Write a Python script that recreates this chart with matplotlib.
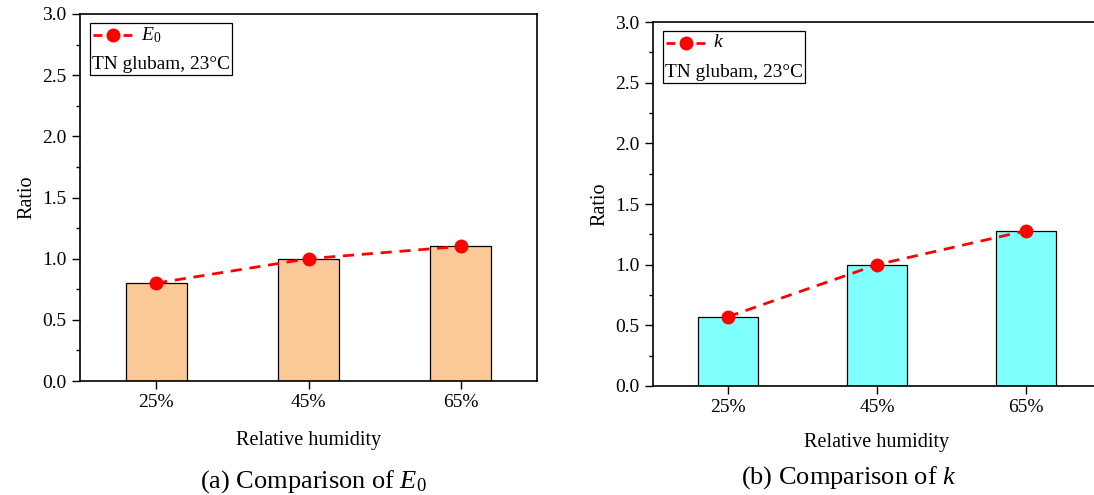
import matplotlib
matplotlib.use("Agg")
import matplotlib.pyplot as plt
import numpy as np
from matplotlib.lines import Line2D
from matplotlib.offsetbox import (AnchoredOffsetbox, DrawingArea, HPacker,
                                  TextArea, VPacker)
from matplotlib.ticker import MultipleLocator, FormatStrFormatter

plt.rcParams['font.family'] = ['Liberation Serif', 'DejaVu Serif']
plt.rcParams['mathtext.fontset'] = 'custom'
plt.rcParams['mathtext.rm'] = 'Liberation Serif'
plt.rcParams['mathtext.it'] = 'Liberation Serif:italic'

# data
humidity = ['25%', '45%', '65%']
e0_ratio = [0.80, 1.00, 1.10]
k_ratio = [0.57, 1.00, 1.28]

panels = [
    dict(values=e0_ratio, color='#FBC898', label=r'$\mathit{E_0}$',
         caption=r'(a) Comparison of $E_\mathrm{0}$',
         pos=[80 / 1094, 1 - 381 / 495, 457 / 1094, 367 / 495],
         cap_x=313 / 1094, cap_y=1 - 482 / 495, xlab_pad=14),
    dict(values=k_ratio, color='#80FFFF', label=r'$k$',
         caption=r'(b) Comparison of $k$',
         pos=[653 / 1094, 1 - 386 / 495, 448 / 1094, 364 / 495],
         cap_x=849 / 1094, cap_y=1 - 478 / 495, xlab_pad=12),
]

fig = plt.figure(figsize=(10.94, 4.95), dpi=100)

for p in panels:
    ax = fig.add_axes(p['pos'])
    x = np.arange(len(humidity))
    ax.bar(x, p['values'], width=0.4, color=p['color'], edgecolor='black',
           linewidth=0.9, zorder=2)
    ax.plot(x, p['values'], color='red', linestyle='--', dashes=(4, 2.8),
            linewidth=2.0, marker='o', markersize=9, zorder=3)
    ax.set_xlim(-0.5, 2.5)
    ax.set_ylim(0, 3.0)
    ax.set_xticks(x)
    ax.set_xticklabels(humidity)
    ax.yaxis.set_major_locator(MultipleLocator(0.5))
    ax.yaxis.set_minor_locator(MultipleLocator(0.25))
    ax.yaxis.set_major_formatter(FormatStrFormatter('%.1f'))
    ax.tick_params(axis='both', which='major', direction='out', length=5.5,
                   width=1.0, labelsize=14, pad=4)
    ax.tick_params(axis='y', which='minor', direction='out', length=3, width=1.0)
    for s in ax.spines.values():
        s.set_linewidth(1.2)
    ax.set_xlabel('Relative humidity', fontsize=14.5, labelpad=p['xlab_pad'])
    ax.set_ylabel('Ratio', fontsize=14.5, labelpad=4)

    # legend box: line entry plus note
    da = DrawingArea(30, 14, 0, 0)
    da.add_artist(Line2D([1, 29], [7, 7], color='red', linestyle='--',
                         dashes=(3.2, 2.2), linewidth=2.0))
    da.add_artist(Line2D([15], [7], color='red', marker='o', markersize=9))
    row = HPacker(children=[da, TextArea(p['label'],
                                         textprops=dict(fontsize=14))],
                  pad=0, sep=5, align='center')
    note = TextArea('TN glubam, 23°C', textprops=dict(fontsize=13.9))
    box = VPacker(children=[row, note], pad=0, sep=8, align='left')
    anchored = AnchoredOffsetbox(loc='upper left', child=box, pad=0.14,
                                 borderpad=0, frameon=True,
                                 bbox_to_anchor=(0.022, 0.975),
                                 bbox_transform=ax.transAxes)
    anchored.patch.set_edgecolor('black')
    anchored.patch.set_linewidth(0.9)
    anchored.patch.set_boxstyle('square', pad=0)
    ax.add_artist(anchored)

    fig.text(p['cap_x'], p['cap_y'], p['caption'], fontsize=19,
             ha='center', va='center')

fig.savefig('out.png', dpi=100)
